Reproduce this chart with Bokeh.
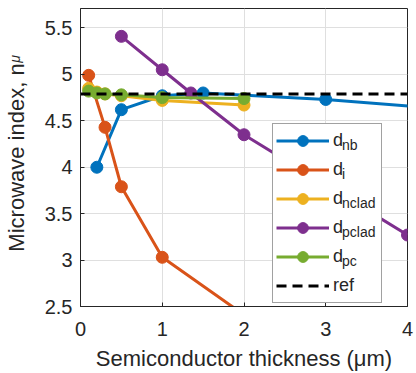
import math

from bokeh.embed import file_html
from bokeh.models import (FixedTicker, Legend, LegendItem, LinearAxis, Range1d)
from bokeh.plotting import figure
from bokeh.resources import INLINE

# --- data: microwave index versus layer thickness ---------------------------
thick_nb = [0.2, 0.5, 1.0, 1.5, 3.0, 5.0]
n_nb = [4.00, 4.62, 4.77, 4.80, 4.73, 4.59]

thick_i = [0.1, 0.3, 0.5, 1.0, 2.0]
n_i = [4.99, 4.43, 3.79, 3.03, 2.41]

thick_nclad = [0.1, 0.2, 0.3, 0.5, 1.0, 2.0]
n_nclad = [4.85, 4.81, 4.79, 4.77, 4.72, 4.67]

thick_pclad = [0.5, 1.0, 1.35, 2.0, 3.0, 4.0]
n_pclad = [5.41, 5.05, 4.80, 4.35, 3.81, 3.27]

thick_pc = [0.1, 0.2, 0.3, 0.5, 1.0, 2.0]
n_pc = [4.82, 4.80, 4.79, 4.78, 4.75, 4.74]

n_ref = 4.79

x_limits = [0, 4]
y_limits = [2.5, 5.71]
x_ticks = [0, 1, 2, 3, 4]
y_ticks = [2.5, 3, 3.5, 4, 4.5, 5, 5.5]
y_tick_labels = ["2.5", "3", "3.5", "4", "4.5", "5", "5.5"]

series_subscripts = ["nb", "i", "nclad", "pclad", "pc"]
series_colors = ["#0072BD", "#D95319", "#EDB120", "#7E2F8E", "#77AC30"]

# --- figure ------------------------------------------------------------------
FONT = "Liberation Sans"
INK = "#262626"
W, H = 416, 373
LEFT, RIGHT, TOP, BOTTOM = 79, 9, 8, 64
FRAME_W, FRAME_H = W - LEFT - RIGHT, H - TOP - BOTTOM


def to_data_y(py):
    """Canvas pixel row -> value on the y scale."""
    y0, y1 = y_limits
    return y0 + ((H - BOTTOM) - py) * (y1 - y0) / FRAME_H


p = figure(width=W, height=H, output_backend="svg", toolbar_location=None,
           x_range=Range1d(*x_limits), y_range=Range1d(*y_limits),
           min_border_left=LEFT, min_border_right=RIGHT,
           min_border_top=TOP, min_border_bottom=BOTTOM)
p.background_fill_color = "white"
p.border_fill_color = "white"
p.outline_line_color = INK
p.outline_line_width = 1

p.xaxis.ticker = FixedTicker(ticks=x_ticks)
p.yaxis.ticker = FixedTicker(ticks=y_ticks)
p.yaxis.major_label_overrides = dict(zip(y_ticks, y_tick_labels))
for ax in (p.xaxis, p.yaxis):
    ax.axis_line_color = INK
    ax.major_tick_line_color = INK
    ax.major_tick_in = 4
    ax.major_tick_out = 0
    ax.minor_tick_line_color = None
    ax.major_label_text_font = FONT
    ax.major_label_text_font_size = "20px"
    ax.major_label_text_color = INK
p.xaxis.major_label_standoff = 15
p.yaxis.major_label_standoff = 8

p.xaxis.axis_label = "Semiconductor thickness (\u03bcm)"
p.xaxis.axis_label_text_font = FONT
p.xaxis.axis_label_text_font_size = "22px"
p.xaxis.axis_label_text_font_style = "normal"
p.xaxis.axis_label_text_color = INK
p.xaxis.axis_label_standoff = 7

# y title: an outer axis carries "Microwave index, n" as its label and the
# subscript mu as its single tick label
mu_tick = to_data_y(55)
title_axis = LinearAxis(ticker=FixedTicker(ticks=[mu_tick]),
                        major_label_overrides={mu_tick: "\u03bc"},
                        major_label_orientation=math.pi / 2,
                        major_label_standoff=20,
                        major_label_text_font=FONT,
                        major_label_text_font_size="14px",
                        major_label_text_font_style="italic",
                        major_label_text_color=INK,
                        axis_line_color=None, major_tick_line_color=None,
                        minor_tick_line_color=None,
                        axis_label="Microwave index, n",
                        axis_label_standoff=-32,
                        axis_label_text_font=FONT,
                        axis_label_text_font_size="22px",
                        axis_label_text_font_style="normal",
                        axis_label_text_color=INK)
p.add_layout(title_axis, "left")

p.grid.grid_line_color = "#dfdfdf"
p.grid.grid_line_width = 1

# --- series ------------------------------------------------------------------
series = [(thick_nb, n_nb), (thick_i, n_i), (thick_nclad, n_nclad),
          (thick_pclad, n_pclad), (thick_pc, n_pc)]
items, sub_items = [], []
for (xs, ys), sub, color in zip(series, series_subscripts, series_colors):
    ln = p.line(xs, ys, line_color=color, line_width=3, line_join="round")
    mk = p.scatter(xs, ys, marker="circle", size=12, fill_color=color,
                   line_color=color)
    items.append(LegendItem(label="d", renderers=[ln, mk]))
    # empty, transparent carrier so the subscript legend draws text only
    ghost = p.line(x=[], y=[], line_alpha=0)
    sub_items.append(LegendItem(label=sub, renderers=[ghost]))

ref_line = p.line(x_limits, [n_ref, n_ref], line_color="black", line_width=3,
                  line_dash="10 6")
items.append(LegendItem(label="ref", renderers=[ref_line]))

# --- legend ------------------------------------------------------------------
leg_left, leg_top, leg_shift = 271, 127, 1
pad, glyph_w, glyph_h, gap, standoff, lab_w = 3, 53, 27, 2, 4, 45


def legend_height(n):
    return n * glyph_h + (n - 1) * gap + 2 * pad


legend = Legend(items=items,
                location=(leg_left - LEFT,
                          (H - BOTTOM) - (leg_top + legend_height(len(items))) - leg_shift),
                padding=pad, spacing=gap, margin=0,
                glyph_width=glyph_w, glyph_height=glyph_h,
                label_standoff=standoff, label_width=lab_w,
                label_text_font=FONT, label_text_font_size="18px",
                label_text_color=INK,
                border_line_color="#444444", border_line_width=1,
                background_fill_color="white", background_fill_alpha=1)
p.add_layout(legend, "center")

# subscripts of the "d" entries, laid over the rows of the main legend
sub_legend = Legend(items=sub_items,
                    location=(leg_left - LEFT,
                              (H - BOTTOM) - (leg_top + legend_height(len(sub_items))) - leg_shift),
                    padding=pad, spacing=gap, margin=0,
                    glyph_width=glyph_w, glyph_height=glyph_h,
                    label_standoff=standoff + 13, label_width=10,
                    label_text_font=FONT, label_text_font_size="14px",
                    label_text_color=INK, label_text_baseline="top",
                    border_line_color=None, background_fill_alpha=0,
                    inactive_fill_alpha=0)
p.add_layout(sub_legend, "center")

open("out.html", "w").write(file_html(p, INLINE))
